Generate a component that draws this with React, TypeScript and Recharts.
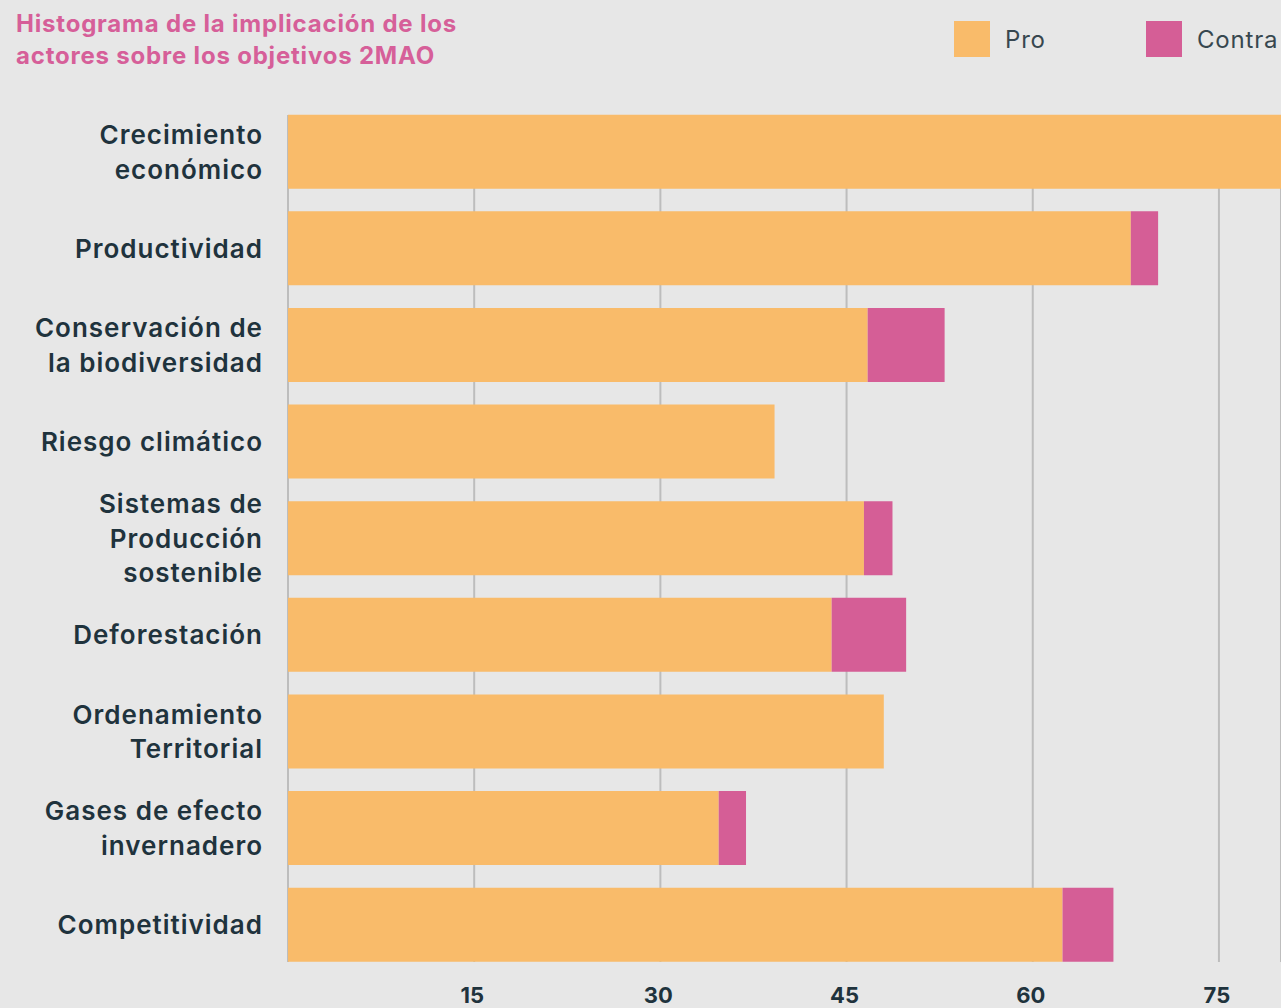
import React from "react";
import { BarChart, Bar, XAxis, YAxis, CartesianGrid } from "recharts";

const categories = [
  "Crecimiento\neconómico",
  "Productividad",
  "Conservación de\nla biodiversidad",
  "Riesgo climático",
  "Sistemas de\nProducción\nsostenible",
  "Deforestación",
  "Ordenamiento\nTerritorial",
  "Gases de efecto\ninvernadero",
  "Competitividad",
];
const proValues = [80, 67.9, 46.7, 39.2, 46.4, 43.8, 48.0, 34.7, 62.4];
const contraValues = [0, 2.2, 6.2, 0, 2.3, 6.0, 0, 2.2, 4.1];
const xTicks = [0, 15, 30, 45, 60, 75];
const seriesNames = ["Pro", "Contra"];
const titleLines = [
  "Histograma de la implicación de los",
  "actores sobre los objetivos 2MAO",
];

const ORANGE = "#f9bb6a";
const PINK = "#d55e96";
const BG = "#e7e7e7";
const TEXT = "#1f333d";

const data = categories.map((c, i) => ({
  name: c,
  pro: proValues[i],
  contra: contraValues[i],
}));

const FONT = "Inter, 'Open Sans', sans-serif";

const YTick = (props: any) => {
  const { x, y, payload } = props;
  const lines: string[] = String(payload.value).split("\n");
  const lh = 34.5;
  const start = -((lines.length - 1) * lh) / 2;
  return (
    <text
      x={x}
      y={y}
      textAnchor="end"
      fill={TEXT}
      fontFamily={FONT}
      fontWeight={600}
      fontSize={26}
      letterSpacing={1.0}
    >
      {lines.map((l, i) => (
        <tspan key={i} x={x - 25} y={y + start + i * lh} dy="0.36em">
          {l}
        </tspan>
      ))}
    </text>
  );
};

const XTick = (props: any) => {
  const { x, y, payload } = props;
  if (payload.value === 0) return null;
  return (
    <text
      x={x - 2}
      y={y + 41}
      textAnchor="middle"
      fill={TEXT}
      fontFamily={FONT}
      fontWeight={700}
      fontSize={22}
    >
      {payload.value}
    </text>
  );
};

export default function App() {
  return (
    <div
      style={{
        position: "absolute",
        left: 0,
        top: 0,
        width: 1281,
        height: 1008,
        background: BG,
        overflow: "hidden",
      }}
    >
      <div
        style={{
          position: "absolute",
          left: 16,
          top: 8,
          color: "#d65f99",
          fontFamily: FONT,
          fontWeight: 700,
          fontSize: 24,
          lineHeight: "32px",
          letterSpacing: 0.8,
        }}
      >
        {titleLines.map((t, i) => (
          <div key={i}>{t}</div>
        ))}
      </div>
      <div
        style={{
          position: "absolute",
          left: 954,
          top: 21,
          display: "flex",
          alignItems: "center",
          fontFamily: FONT,
          fontSize: 24,
          color: "#37474f",
          whiteSpace: "nowrap",
          letterSpacing: 0.8,
        }}
      >
        <div style={{ width: 36, height: 36, background: ORANGE }} />
        <div style={{ marginLeft: 15, width: 141 }}>{seriesNames[0]}</div>
        <div style={{ width: 36, height: 36, background: PINK }} />
        <div style={{ marginLeft: 15 }}>{seriesNames[1]}</div>
      </div>
      <div style={{ position: "absolute", left: 0, top: 0 }}>
        <BarChart
          width={1281}
          height={1008}
          data={data}
          layout="vertical"
          margin={{ top: 115, right: 0, bottom: 0, left: 0 }}
          barSize={74}
        >
          <CartesianGrid
            horizontal={false}
            vertical={true}
            stroke="#bdbdbd"
            strokeWidth={2}
          />
          <XAxis
            type="number"
            domain={[0, 80]}
            ticks={xTicks}
            axisLine={false}
            tickLine={false}
            tickSize={0}
            tickMargin={0}
            height={46}
            tick={<XTick />}
            interval={0}
          />
          <YAxis
            type="category"
            dataKey="name"
            width={288}
            axisLine={false}
            tickLine={false}
            tickSize={0}
            tickMargin={0}
            padding={{ top: -11.3, bottom: -11.3 }}
            tick={<YTick />}
            interval={0}
          />
          <Bar dataKey="pro" stackId="a" fill={ORANGE} isAnimationActive={false} />
          <Bar dataKey="contra" stackId="a" fill={PINK} isAnimationActive={false} />
        </BarChart>
      </div>
    </div>
  );
}
